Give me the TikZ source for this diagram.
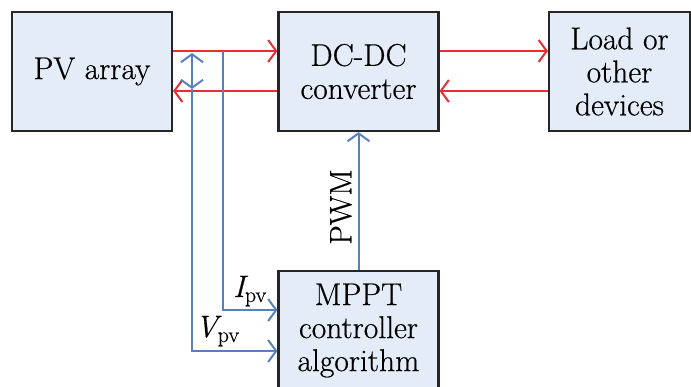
\documentclass[tikz,border=0pt]{standalone}
\usepackage{fontspec}
\newfontfamily\diagfont{Latin Modern Roman}[FakeBold=0.5]
\usetikzlibrary{arrows.meta}
\definecolor{flowred}{RGB}{228,48,52}
\definecolor{sigblue}{RGB}{88,128,190}
\definecolor{boxfill}{RGB}{228,236,247}
\tikzset{
  barb/.tip={Straight Barb[length=8pt,width=22pt,line width=2pt]},
  block/.style={draw=black!85, line width=2.2pt, fill=boxfill, minimum width=160pt,
    minimum height=119pt, align=center, inner sep=0pt,
    font=\diagfont\fontsize{31.5}{33}\selectfont},
  power/.style={draw=flowred, line width=2pt, -barb},
  signal/.style={draw=sigblue, line width=2pt, -barb},
  lbl/.style={font=\diagfont\fontsize{31}{33}\selectfont, inner sep=0pt}
}
\begin{document}
\begin{tikzpicture}[x=1pt,y=-1pt]
\useasboundingbox (0,0) rectangle (691,387);
% blocks
\node[block] (pv)   at (92,71.5)    {PV array};
\node[block] (dc)   at (358.5,71.5) {DC-DC\\converter};
\node[block, minimum width=141pt] (load) at (619.5,71.5) {Load or\\other\\devices};
\node[block] (mppt) at (358.5,330.5) {MPPT\\controller\\algorithm};
% junction points on the PV side
\coordinate (itap) at (223,51);
\coordinate (vtop) at (192,53);
\coordinate (vbot) at (192,89);
\coordinate (ibend) at (223,310);
\coordinate (vbend) at (192,351);
% power flow
\draw[power] (pv.east |- 0,51) -- (dc.west |- 0,51);
\draw[power] (dc.west |- 0,91) -- (pv.east |- 0,91);
\draw[power] (dc.east |- 0,51) -- (load.west |- 0,51);
\draw[power] (load.west |- 0,91) -- (dc.east |- 0,91);
% measurement lines
\draw[sigblue, line width=2pt, barb-barb] (vtop) -- (vbot);
\draw[signal] (vbot) -- (vbend) -- (mppt.west |- vbend);
\draw[signal] (itap) -- (ibend) -- (mppt.west |- ibend);
% PWM control
\draw[signal] (mppt.north) -- (dc.south);
% labels
\node[lbl, rotate=90] (pwm) at (341,207) {PWM};
\node[lbl, anchor=base west] (ipv) at (233,297) {\itshape I\fontsize{22}{24}\selectfont\upshape\raisebox{-5pt}{pv}};
\node[lbl, anchor=base west] (vpv) at (195,337) {\itshape V\fontsize{22}{24}\selectfont\upshape\raisebox{-5pt}{pv}};
\end{tikzpicture}
\end{document}
